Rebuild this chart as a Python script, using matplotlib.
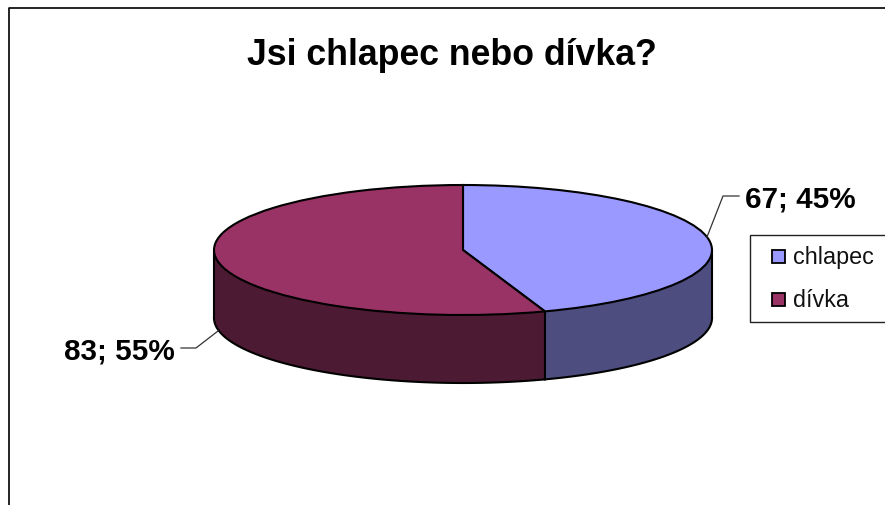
import numpy as np
import matplotlib
matplotlib.use("Agg")
import matplotlib.pyplot as plt
from matplotlib.patches import Rectangle

categories = ["chlapec", "dívka"]
counts = [67, 83]
percent_labels = ["45%", "55%"]
top_colors = ["#9999FF", "#993366"]
side_colors = ["#4D4D80", "#4D1A33"]
title_text = "Jsi chlapec nebo dívka?"

W, H = 885, 506
CX, CY, RX, RY, DEPTH = 463, 251, 249, 65, 68

plt.rcParams["font.family"] = ["Liberation Sans", "DejaVu Sans"]
fig = plt.figure(figsize=(W / 100, H / 100), dpi=100, facecolor="white")

# Pie axes: one data unit is RX pixels across and RY pixels down, so a unit pie becomes the disc
ax = fig.add_axes([0, 0, 1, 1])
ax.pie(counts, colors=top_colors, startangle=90, counterclock=False,
       wedgeprops=dict(edgecolor="black", linewidth=1.5, zorder=5))
ax.set_aspect("auto")
ax.set_xlim(-CX / RX, (W - CX) / RX)
ax.set_ylim((CY - H) / RY, CY / RY)
ax.set_axis_on()
ax.set_frame_on(False)
ax.set_xticks([])
ax.set_yticks([])

# Cylinder wall below the front half of the disc
d = DEPTH / RY
total = sum(counts)
split = 90 - 360 * counts[0] / total
blue_t = np.radians(np.linspace(0, split, 80))
maroon_t = np.radians(np.linspace(split, -180, 120))
for t, col in zip((blue_t, maroon_t), side_colors):
    x, y = np.cos(t), np.sin(t)
    ax.fill_between(x, y, y - d, color=col, edgecolor="none", zorder=2)
    ax.plot(x, y - d, color="black", lw=1.5, zorder=3)
for xs in (-1, 1):
    ax.plot([xs, xs], [0, -d], color="black", lw=1.5, zorder=3)
sx, sy = np.cos(np.radians(split)), np.sin(np.radians(split))
ax.plot([sx, sx], [sy, sy - d], color="black", lw=1.5, zorder=3)

# Overlay in pixel units for the chart frame, title, labels and legend
ov = fig.add_axes([0, 0, 1, 1], facecolor="none")
ov.set_xlim(0, W)
ov.set_ylim(H, 0)
ov.axis("off")
ov.plot([9, 9, W], [H, 8.5, 8.5], color="black", lw=1.2)
ov.text(451.5, 55, title_text, fontsize=25.7, fontweight="bold", ha="center", va="center")

ov.text(800, 200, f"{counts[0]}; {percent_labels[0]}", fontsize=21.3, fontweight="bold",
        ha="center", va="center")
ov.text(119, 352, f"{counts[1]}; {percent_labels[1]}", fontsize=21.3, fontweight="bold",
        ha="center", va="center")
ov.plot([707, 723, 739], [238, 197, 197], color="#333333", lw=0.9)
ov.plot([218, 196, 181], [332, 349, 349], color="#333333", lw=0.9)

ov.add_patch(Rectangle((749.5, 236), 150, 87, facecolor="white", edgecolor="#222222", lw=1.0,
                       clip_on=True))
for name, col, ytop in zip(categories, top_colors, (251, 294)):
    ov.add_patch(Rectangle((772, ytop), 13, 13, facecolor=col, edgecolor="black", lw=1.3))
    ov.text(793, ytop + 6.5, name, fontsize=16.8, ha="left", va="center", color="#111111")

fig.savefig("out.png", dpi=100)
